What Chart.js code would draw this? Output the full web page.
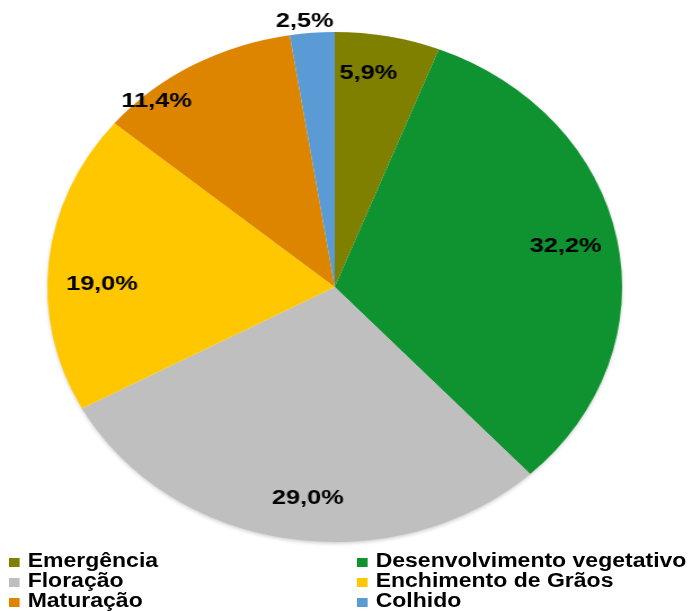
<!DOCTYPE html>
<html>
<head>
<meta charset="utf-8">
<script src="https://cdn.jsdelivr.net/npm/chart.js@4.4.1/dist/chart.umd.min.js"></script>
<style>
body{
margin:0;
background:#fff;
width:689px;
height:611px;
overflow:hidden;
position:relative;
font-family:"Liberation Sans",Arial,sans-serif;
}
#wrap{
position:absolute;
left:0;
top:0;
width:612px;
height:560px;
transform:scaleX(1.127);
transform-origin:0 0;
}
.item{
position:absolute;
font-weight:bold;
font-size:19.5px;
line-height:20px;
color:#000;
white-space:nowrap;
transform:scaleX(1.18);
transform-origin:0 0;
}
.sq{
display:inline-block;
width:9.3px;
height:9px;
margin-right:6.5px;
}
</style>
</head>
<body>

<div id="wrap"><canvas id="pieChart"></canvas></div>
<div id="legend"></div>

<script>

const labels = [
"Emergência",
"Desenvolvimento vegetativo",
"Floração",
"Enchimento de Grãos",
"Maturação",
"Colhido"
];

const values = [
5.9,
32.2,
29.0,
19.0,
11.4,
2.5
];

const colors = [
"#808000",
"#0e9330",
"#bfbfbf",
"#ffc700",
"#de8500",
"#5b9bd5"
];

// where each % label sits: shift from slice middle (degrees), and radius fraction
const labelShift = [-2.7, -0.8, -2.9, -4.7, -10.7, -1.2];
const labelRadius = [0.85, 0.82, 0.83, 0.81, 0.96, 1.05];


// soft shadow under the pie
const pieShadow = {
id:'pieShadow',
beforeDatasetsDraw(chart){
let arc = chart.getDatasetMeta(0).data[0];
if(!arc) return;
let ctx = chart.ctx;
ctx.save();
ctx.beginPath();
ctx.arc(arc.x, arc.y, arc.outerRadius - 1, 0, Math.PI*2);
ctx.shadowColor = "rgba(0,0,0,0.25)";
ctx.shadowBlur = 4;
ctx.shadowOffsetY = 2;
ctx.fillStyle = "#ffffff";
ctx.fill();
ctx.restore();
}
};


const percentLabels = {
id:'percentLabels',
afterDatasetsDraw(chart){
let ctx = chart.ctx;
let arcs = chart.getDatasetMeta(0).data;
ctx.save();
ctx.font = "bold 21px 'Liberation Sans', Arial, sans-serif";
ctx.fillStyle = "#000";
ctx.textAlign = "center";
ctx.textBaseline = "middle";
arcs.forEach(function(arc, i){
let mid = (arc.startAngle + arc.endAngle)/2 + labelShift[i]*Math.PI/180;
let r = arc.outerRadius * labelRadius[i];
let x = arc.x + Math.cos(mid)*r;
let y = arc.y + Math.sin(mid)*r;
let txt = values[i].toFixed(1).replace(".", ",") + "%";
ctx.save();
ctx.translate(x, y);
ctx.scale(1.07, 1);
ctx.fillText(txt, 0, 1);
ctx.restore();
});
ctx.restore();
}
};


new Chart(document.getElementById('pieChart'),{

type:'pie',

data:{
labels:labels,
datasets:[{
data:values,
backgroundColor:colors,
borderWidth:0
}]
},

options:{
responsive:true,
maintainAspectRatio:false,
animation:false,
layout:{
padding:{top:32,bottom:18,left:42,right:60}
},
plugins:{
legend:{display:false},
tooltip:{enabled:false}
}
},

plugins:[pieShadow, percentLabels]

});


// two column legend under the chart
let legend = document.getElementById("legend");
let colX = [9, 357];
let rowY = [550, 570, 590];

labels.forEach(function(name, i){
let div = document.createElement("div");
div.className = "item";
div.style.left = colX[i % 2] + "px";
div.style.top = rowY[Math.floor(i / 2)] + "px";
div.innerHTML = '<span class="sq" style="background:' + colors[i] + '"></span>' + name;
legend.appendChild(div);
});

</script>
</body>
</html>
